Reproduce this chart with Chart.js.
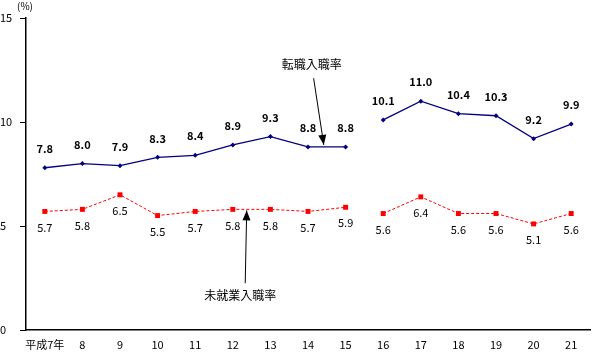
<!DOCTYPE html>
<html><head><meta charset="utf-8">
<script src="https://cdn.jsdelivr.net/npm/chart.js@4/dist/chart.umd.min.js"></script>
<style>html,body{margin:0;padding:0;background:#fff}#wrap{width:594px;height:353px}</style>
</head><body><div id="wrap"><canvas id="c" width="594" height="353"></canvas></div>
<script>
const categories = ['平成7年','8','9','10','11','12','13','14','15','16','17','18','19','20','21'];
const tenshokuRate = [7.8,8.0,7.9,8.3,8.4,8.9,9.3,8.8,8.8,10.1,11.0,10.4,10.3,9.2,9.9];
const mishugyoRate = [5.7,5.8,6.5,5.5,5.7,5.8,5.8,5.7,5.9,5.6,6.4,5.6,5.6,5.1,5.6];
const yTicks = [0,5,10,15];
const breakAfterIndex = 8;

const FONT = '"Noto Sans CJK JP", "Liberation Sans", sans-serif';

const annot = {
  id:'annot',
  afterDatasetsDraw(chart){
    const ctx = chart.ctx, x = chart.scales.x, y = chart.scales.y;
    chart.data.datasets.forEach((ds,di)=>{
      const meta = chart.getDatasetMeta(di);
      meta.data.forEach((pt,i)=>{
        const v = ds.data[i];
        ctx.save();
        ctx.fillStyle = '#000';
        ctx.textAlign='center'; ctx.textBaseline='middle';
        if(di===0){ ctx.font = 'bold 11px '+FONT; ctx.fillText(v.toFixed(1), pt.x, pt.y-19); }
        else { ctx.font = '11px '+FONT; ctx.fillText(v.toFixed(1), pt.x, pt.y+16); }
        ctx.restore();
      });
    });
    ctx.save();
    ctx.fillStyle='#000'; ctx.font='10px '+FONT; ctx.textAlign='center'; ctx.textBaseline='middle';
    ctx.fillText('(%)', x.left-1, 6);
    ctx.restore();
    function arrow(x1,y1,x2,y2){
      ctx.save(); ctx.strokeStyle='#000'; ctx.fillStyle='#000'; ctx.lineWidth=1;
      ctx.beginPath(); ctx.moveTo(x1,y1); ctx.lineTo(x2,y2); ctx.stroke();
      const a=Math.atan2(y2-y1,x2-x1), L=10, W=4;
      ctx.beginPath(); ctx.moveTo(x2,y2);
      ctx.lineTo(x2-L*Math.cos(a)+W*Math.sin(a), y2-L*Math.sin(a)-W*Math.cos(a));
      ctx.lineTo(x2-L*Math.cos(a)-W*Math.sin(a), y2-L*Math.sin(a)+W*Math.cos(a));
      ctx.closePath(); ctx.fill(); ctx.restore();
    }
    ctx.save(); ctx.fillStyle='#000'; ctx.font='12px '+FONT; ctx.textAlign='center'; ctx.textBaseline='middle';
    ctx.fillText('転職入職率', x.getPixelForValue(7.1), y.getPixelForValue(12.75));
    ctx.fillText('未就業入職率', x.getPixelForValue(5.2), y.getPixelForValue(1.65));
    ctx.restore();
    arrow(x.getPixelForValue(7.15), y.getPixelForValue(12.1), x.getPixelForValue(7.42), y.getPixelForValue(8.9));
    arrow(x.getPixelForValue(5.33), y.getPixelForValue(2.25), x.getPixelForValue(5.37), y.getPixelForValue(5.75));
  }
};

new Chart(document.getElementById('c'), {
  type:'line',
  data:{ labels:categories, datasets:[
    { data:tenshokuRate, borderColor:'#000080', backgroundColor:'#000080', borderWidth:1.3,
      pointStyle:'rectRot', pointRadius:2.5, pointBorderWidth:0, tension:0,
      segment:{ borderColor: c => c.p0DataIndex===breakAfterIndex ? 'rgba(0,0,0,0)' : '#000080' } },
    { data:mishugyoRate, borderColor:'#ff0000', backgroundColor:'#ff0000', borderWidth:1, borderDash:[3,2],
      pointStyle:'rect', pointRadius:3.5, pointBorderWidth:0, tension:0,
      segment:{ borderColor: c => c.p0DataIndex===breakAfterIndex ? 'rgba(0,0,0,0)' : '#ff0000' } }
  ]},
  options:{
    responsive:false, animation:false, devicePixelRatio:1,
    layout:{ padding:{ top:18, right:0, left:0, bottom:0 } },
    plugins:{ legend:{display:false}, tooltip:{enabled:false} },
    scales:{
      x:{ offset:true,
        afterFit: s => { s.height = 23; },
        grid:{ display:true, drawOnChartArea:false, drawTicks:false },
        border:{ color:'#000', width:1.5 },
        ticks:{ color:'#000', font:{ family:FONT, size:11 }, padding:8, maxRotation:0, autoSkip:false } },
      y:{ min:0, max:15,
        afterBuildTicks: s => { s.ticks = yTicks.map(v=>({value:v})); },
        afterFit: s => { s.width = 26; },
        grid:{ drawOnChartArea:false, drawTicks:true, tickLength:6, color:'#000' },
        border:{ color:'#000', width:1.5 },
        ticks:{ color:'#000', font:{ family:FONT, size:11 }, crossAlign:'far', padding:2 } }
    }
  },
  plugins:[annot]
});
</script></body></html>
